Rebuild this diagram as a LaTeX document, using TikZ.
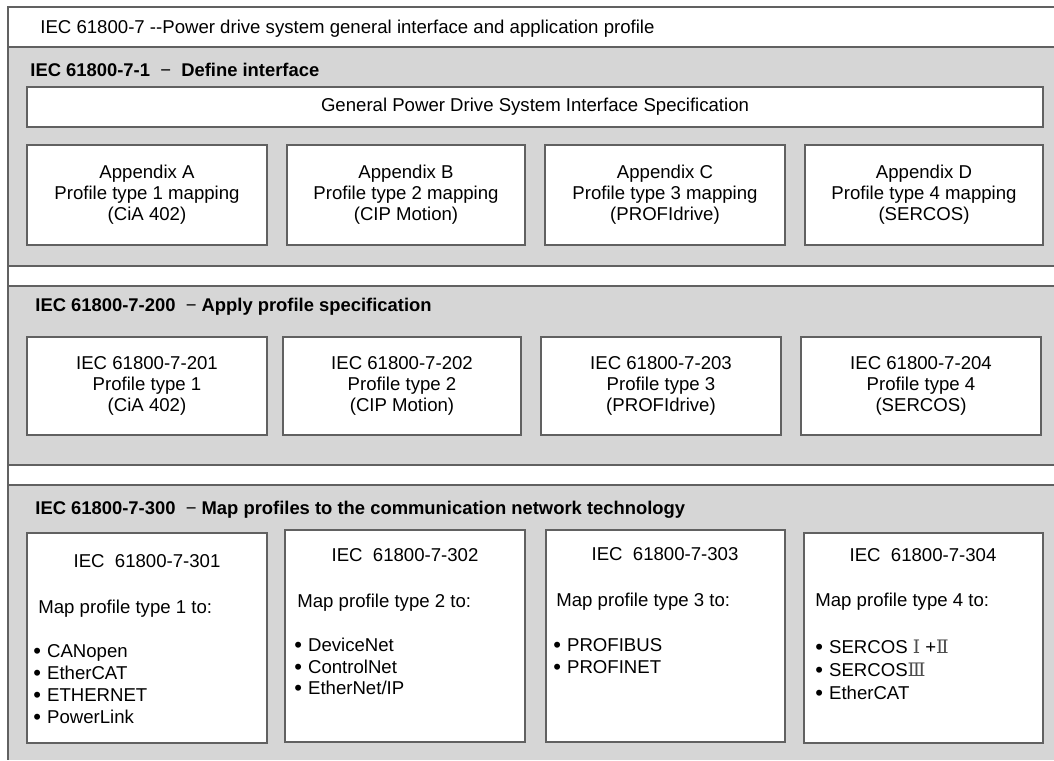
\documentclass[tikz,border=0pt]{standalone}
\usepackage{fontspec}
\setmainfont{Liberation Sans}
\newfontfamily\romfont{DejaVu Serif}
\usetikzlibrary{positioning,backgrounds}
\tikzset{iec rule/.style={draw=black!62, line width=0.6pt}}
\tikzset{iec band/.style={fill=black!16, draw=none}}
\tikzset{iec box/.style={draw=black!62, fill=white, line width=0.6pt, align=center, inner sep=0pt, font=\fontsize{9.3}{10.5}\selectfont}}
\tikzset{iec head/.style={anchor=base west, inner sep=0pt, font=\bfseries\fontsize{9.2}{10}\selectfont}}
\tikzset{iec text/.style={anchor=base west, inner sep=0pt, font=\fontsize{9.3}{10}\selectfont}}
\tikzset{iec num/.style={anchor=base, inner sep=0pt, font=\fontsize{9.3}{10}\selectfont}}
\newcommand{\iecdot}{\smash{\raisebox{-0.6pt}{\fontsize{11}{10}\selectfont\textbullet}}\hspace{3pt}}

\begin{document}
\begin{tikzpicture}[x=0.5pt,y=-0.5pt]
		\useasboundingbox (0,0) rectangle (1054,760);

		% bands
		\fill[iec band] (8,47) rectangle (1054,266);
		\fill[iec band] (8,286) rectangle (1054,465);
		\fill[iec band] (8,485) rectangle (1054,760);
		\draw[iec rule] (1054,7) -- (8,7) -- (8,760);
		\draw[iec rule] (8,47) -- (1054,47);
		\draw[iec rule] (8,266) -- (1054,266);
		\draw[iec rule] (8,286) -- (1054,286);
		\draw[iec rule] (8,465) -- (1054,465);
		\draw[iec rule] (8,485) -- (1054,485);

		\node[iec text] (title) at (40,33) {IEC 61800-7 -{}-Power drive system general interface and application profile};

		% IEC 61800-7-1
		\node[iec head] (head1) at (30,76) {IEC 61800-7-1\ \ {\normalfont\char"2212}\ \ Define interface};
		\node[iec box, minimum width=508pt, minimum height=20pt] (spec) at (535,107) {General Power Drive System Interface Specification};
		\node[iec box, minimum width=120pt, minimum height=50pt] (appA) at (147,195) {Appendix A\\Profile type 1 mapping\\(CiA 402)};
		\node[iec box, minimum width=119pt, minimum height=50pt] (appB) at (406,195) {Appendix B\\Profile type 2 mapping\\(CIP Motion)};
		\node[iec box, minimum width=120pt, minimum height=50pt] (appC) at (665,195) {Appendix C\\Profile type 3 mapping\\(PROFIdrive)};
		\node[iec box, minimum width=119pt, minimum height=50pt] (appD) at (924,195) {Appendix D\\Profile type 4 mapping\\(SERCOS)};

		% IEC 61800-7-200
		\node[iec head] (head2) at (35,311) {IEC 61800-7-200\ \ {\normalfont\char"2212}\ Apply profile specification};
		\node[iec box, minimum width=120pt, minimum height=49pt] (p201) at (147,386) {IEC 61800-7-201\\Profile type 1\\(CiA 402)};
		\node[iec box, minimum width=119pt, minimum height=49pt] (p202) at (402,386) {IEC 61800-7-202\\Profile type 2\\(CIP Motion)};
		\node[iec box, minimum width=120pt, minimum height=49pt] (p203) at (661,386) {IEC 61800-7-203\\Profile type 3\\(PROFIdrive)};
		\node[iec box, minimum width=120pt, minimum height=49pt] (p204) at (921,386) {IEC 61800-7-204\\Profile type 4\\(SERCOS)};

		% IEC 61800-7-300
		\node[iec head] (head3) at (35,514) {IEC 61800-7-300\ \ {\normalfont\char"2212}\ Map profiles to the communication network technology};
		\node[iec box, minimum width=120pt, minimum height=105pt] (m301) at (147,638) {};
		\node[iec box, minimum width=120pt, minimum height=106pt] (m302) at (405,636) {};
		\node[iec box, minimum width=119.5pt, minimum height=106pt] (m303) at (665.5,636) {};
		\node[iec box, minimum width=119.5pt, minimum height=105pt] (m304) at (923.5,638) {};

		\node[iec num] (n301) at (147,567) {IEC\ \ 61800-7-301};
		\node[iec num] (n302) at (405,561) {IEC\ \ 61800-7-302};
		\node[iec num] (n303) at (665,560) {IEC\ \ 61800-7-303};
		\node[iec num] (n304) at (923,561) {IEC\ \ 61800-7-304};

		\node[iec text] (t301) at (38,613) {Map profile type 1 to:};
		\node[iec text] (t302) at (297,607) {Map profile type 2 to:};
		\node[iec text] (t303) at (556,606) {Map profile type 3 to:};
		\node[iec text] (t304) at (815,606) {Map profile type 4 to:};

		\node[iec text] (canopen) at (33,657) {\iecdot CANopen};
		\node[iec text] (ethercatA) at (33,679) {\iecdot EtherCAT};
		\node[iec text] (ethernet) at (33,701) {\iecdot ETHERNET};
		\node[iec text] (powerlink) at (33,723) {\iecdot PowerLink};

		\node[iec text] (devicenet) at (294,651) {\iecdot DeviceNet};
		\node[iec text] (controlnet) at (294,673) {\iecdot ControlNet};
		\node[iec text] (ethernetip) at (294,694) {\iecdot EtherNet/IP};

		\node[iec text] (profibus) at (553,651) {\iecdot PROFIBUS};
		\node[iec text] (profinet) at (553,673) {\iecdot PROFINET};

		\node[iec text] (sercosA) at (815,653) {\iecdot SERCOS {\romfont\color{black!70}Ⅰ} +{\romfont\color{black!70}Ⅱ}};
		\node[iec text] (sercosB) at (815,676) {\iecdot SERCOS{\romfont\color{black!70}Ⅲ}};
		\node[iec text] (ethercatB) at (815,699) {\iecdot EtherCAT};
	\end{tikzpicture}
\end{document}
